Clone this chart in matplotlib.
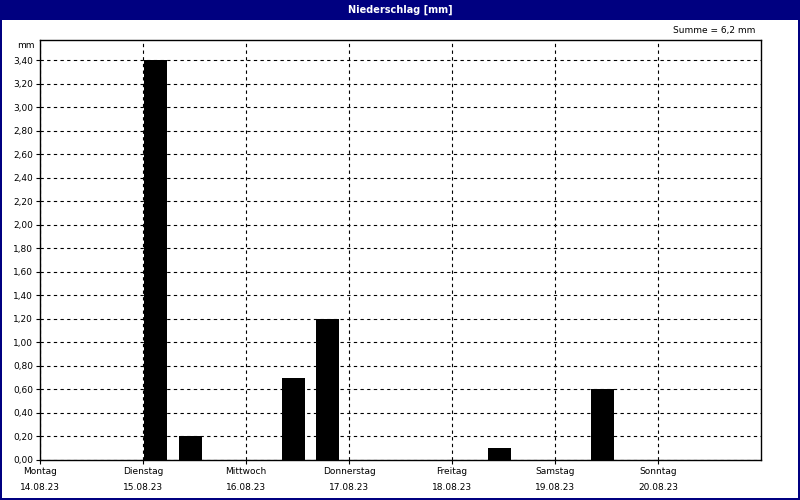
import matplotlib
matplotlib.use("Agg")
import matplotlib.pyplot as plt
import matplotlib.dates as mdates
from matplotlib.patches import Rectangle
import pandas as pd
import numpy as np

# ---- data ----
day_names = ["Montag", "Dienstag", "Mittwoch", "Donnerstag", "Freitag", "Samstag", "Sonntag"]
day_dates = ["14.08.23", "15.08.23", "16.08.23", "17.08.23", "18.08.23", "19.08.23", "20.08.23"]
bar_times = ["2023-08-15 00:00", "2023-08-15 08:00", "2023-08-16 08:00",
             "2023-08-16 16:00", "2023-08-18 08:00", "2023-08-19 08:00"]
bar_values = [3.4, 0.2, 0.7, 1.2, 0.1, 0.6]
y_ticks = [round(0.2 * i, 2) for i in range(18)]
title = "Niederschlag [mm]"
sum_label = "Summe = 6,2 mm"
unit_label = "mm"

plt.rcParams['font.family'] = ['DejaVu Sans']

fig = plt.figure(figsize=(8, 5), dpi=100)
fig.patch.set_facecolor("white")

navy = "#000080"
# title bar
fig.patches.append(Rectangle((0, 0.96), 1, 0.04, transform=fig.transFigure,
                             facecolor=navy, edgecolor="none", zorder=0))
# outer frame
fig.patches.append(Rectangle((0.0012, 0.002), 0.9976, 0.996, transform=fig.transFigure,
                             facecolor="none", edgecolor=navy, linewidth=1.4,
                             antialiased=False, zorder=5))
fig.text(0.5, 0.98, title, color="white", fontsize=7, fontweight="bold",
         ha="center", va="center")

ax = fig.add_axes([0.05, 0.08, 0.9013, 0.84])

times = pd.to_datetime(bar_times)
bar_width = 5.4 / 24.0
ax.bar(mdates.date2num(times.to_pydatetime()) + 0.012, bar_values, width=bar_width,
       align="edge", color="black", edgecolor="none", zorder=3)

start = pd.Timestamp("2023-08-14")
days = [start + pd.Timedelta(days=i) for i in range(len(day_names))]
x0 = mdates.date2num(start.to_pydatetime())
ax.set_xlim(x0, x0 + 7)
ax.set_ylim(0, 3.57)

ax.set_xticks([mdates.date2num(d.to_pydatetime()) for d in days])
ax.set_xticklabels([f"{n}\n{d}" for n, d in zip(day_names, day_dates)],
                   fontsize=6.5, linespacing=2.0)
ax.set_yticks(y_ticks)
ax.set_yticklabels([f"{v:.2f}".replace(".", ",") for v in y_ticks], fontsize=6.5)

ax.tick_params(axis="both", length=3, width=0.8, color="black", pad=2)
ax.grid(True, color="black", linestyle=(0, (3, 3)), linewidth=0.8, zorder=1)
ax.set_axisbelow(True)
for s in ax.spines.values():
    s.set_linewidth(1.0)
    s.set_color("black")

fig.text(0.043, 0.91, unit_label, fontsize=6.5, ha="right", va="center")
fig.text(0.944, 0.938, sum_label, fontsize=6.5, ha="right", va="center")

fig.savefig("out.png", dpi=100, facecolor="white")
